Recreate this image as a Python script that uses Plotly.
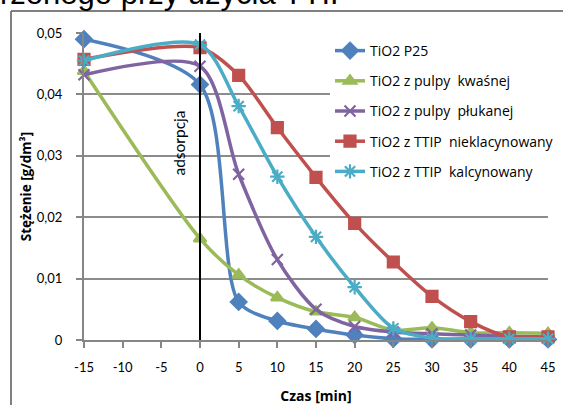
import plotly.graph_objects as go

# ---- data ----
czas = [-15, 0, 5, 10, 15, 20, 25, 30, 35, 40, 45]
p25 = [0.0490, 0.0416, 0.0062, 0.0031, 0.0018, 0.0008, 0.0002, 0.0001, 0.0001, 0.0001, 0.0001]
kwasnej = [0.0438, 0.0165, 0.0106, 0.0069, 0.0046, 0.0037, 0.0016, 0.0020, 0.0012, 0.0012, 0.0011]
plukanej = [0.0432, 0.0446, 0.0270, 0.0131, 0.0050, 0.0022, 0.0013, 0.0010, 0.0008, 0.0006, 0.0005]
niekalc = [0.0457, 0.0476, 0.0431, 0.0346, 0.0265, 0.0190, 0.0127, 0.0071, 0.0030, 0.0005, 0.0005]
kalc = [0.0455, 0.0481, 0.0381, 0.0266, 0.0168, 0.0086, 0.0019, 0.0003, 0.0002, 0.0002, 0.0002]

names = ["TiO2 P25", "TiO2 z pulpy\u00a0 kwaśnej", "TiO2 z pulpy\u00a0 płukanej",
         "TiO2 z TTIP\u00a0 nieklacynowany", "TiO2 z TTIP\u00a0 kalcynowany"]
series = [p25, kwasnej, plukanej, niekalc, kalc]

y_tickvals = [0, 0.01, 0.02, 0.03, 0.04, 0.05]
y_ticktext = ["0", "0,01", "0,02", "0,03", "0,04", "0,05"]
x_tickvals = [-15, -10, -5, 0, 5, 10, 15, 20, 25, 30, 35, 40, 45]
x_ticktext = ["-15", "-10", "-5", "0", "5", "10", "15", "20", "25", "30", "35", "40", "45"]

colors = ["#4F81BD", "#9BBB59", "#8064A2", "#C0504D", "#4BACC6"]
symbols = ["diamond", "triangle-up", "x-thin-open", "square", "asterisk-open"]
msizes = [12, 11, 11, 11, 12]

FONT = "Lato"
FONT2 = "Open Sans"
W, H = 563, 405
L, R, T, B = 84, 15, 33, 65
PW, PH = W - L - R, H - T - B

def px(xp):
    return (xp - L) / PW

def py(yp):
    return ((H - B) - yp) / PH

fig = go.Figure()
for i, (nm, ys) in enumerate(zip(names, series)):
    fig.add_trace(go.Scatter(
        x=czas, y=ys, name=nm,
        mode="lines+markers",
        line=dict(color=colors[i], width=3.5, shape="spline", smoothing=0.8),
        marker=dict(symbol=symbols[i], size=msizes[i], color=colors[i],
                    line=dict(color=colors[i], width=2.2)),
        cliponaxis=False, legendgroup=str(i),
    ))

fig.add_shape(type="line", xref="x", yref="y", x0=0, x1=0, y0=0, y1=0.05,
              line=dict(color="black", width=2), layer="above")

# outer chart frame (left and top edges visible)
fig.add_shape(type="line", xref="paper", yref="paper", x0=px(11), x1=px(11), y0=py(420), y1=py(11),
              line=dict(color="#808080", width=2), layer="above")
fig.add_shape(type="line", xref="paper", yref="paper", x0=px(11), x1=px(570), y0=py(11), y1=py(11),
              line=dict(color="#808080", width=2), layer="above")

fig.add_annotation(x=0, y=0.0320, xref="x", yref="y", text="adsorpcja", textangle=-90,
                   showarrow=False, xanchor="right", xshift=-10,
                   font=dict(family=FONT, size=15.5, color="black"))

fig.add_annotation(x=px(-2), y=py(-6), xref="paper", yref="paper",
                   text="rzonego przy użycia TTIP", showarrow=False, xanchor="left", yanchor="middle",
                   font=dict(family="Liberation Sans", size=31, color="black"))

fig.update_layout(
    width=W, height=H, margin=dict(l=L, r=R, t=T, b=B, autoexpand=False),
    paper_bgcolor="white", plot_bgcolor="white",
    font=dict(family=FONT, color="black"),
    legend=dict(x=px(330), y=py(35),
                xanchor="left", yanchor="top", bgcolor="white",
                font=dict(family=FONT2, size=14), tracegroupgap=9,
                itemwidth=30),
    xaxis=dict(range=[-15, 45], tickvals=x_tickvals, ticktext=x_ticktext, automargin=False,
               showgrid=False, zeroline=False, showline=True, linecolor="#868686", linewidth=2,
               ticks="outside", ticklen=6, tickwidth=2, tickcolor="#868686",
               tickfont=dict(family=FONT, size=13), ticklabelstandoff=8,
               title=dict(text="<b>Czas [min]</b>", font=dict(family=FONT2, size=14), standoff=18)),
    yaxis=dict(range=[0, 0.05], tickvals=y_tickvals, ticktext=y_ticktext, automargin=False,
               showgrid=True, gridcolor="#8c8c8c", gridwidth=2, zeroline=False,
               showline=True, linecolor="#868686", linewidth=2,
               ticks="outside", ticklen=6, tickwidth=2, tickcolor="#868686",
               tickfont=dict(family=FONT, size=13), ticklabelstandoff=11,
               title=dict(text="<b>Stężenie [g/dm³]</b>", font=dict(family=FONT2, size=13.5), standoff=2)),
)

fig.write_html("out.html")
